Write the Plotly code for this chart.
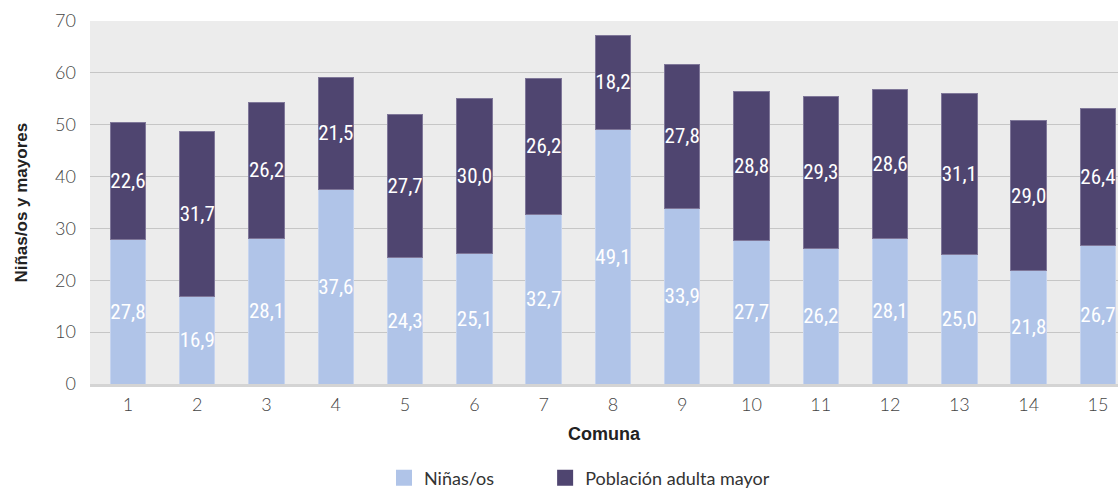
import plotly.graph_objects as go

comunas = [str(i) for i in range(1, 16)]
ninos = [27.8, 16.9, 28.1, 37.6, 24.3, 25.1, 32.7, 49.1, 33.9, 27.7, 26.2, 28.1, 25.0, 21.8, 26.7]
mayores = [22.6, 31.7, 26.2, 21.5, 27.7, 30.0, 26.2, 18.2, 27.8, 28.8, 29.3, 28.6, 31.1, 29.0, 26.4]
y_ticks = [0, 10, 20, 30, 40, 50, 60, 70]

def fmt(v):
    return f"{v:.1f}".replace(".", ",")

label_font = dict(family="Roboto Condensed, Liberation Sans Narrow, sans-serif", size=21,
                  color="white", weight=400)

AX_FONT = "Lato, Open Sans, Liberation Sans, sans-serif"
TITLE_FONT = "Liberation Sans, Arial, sans-serif"

x_idx = list(range(1, 16))

fig = go.Figure()
fig.add_trace(go.Bar(
    x=x_idx, y=ninos, name="Niñas/os", showlegend=False,
    marker=dict(color="#b0c4e8", line=dict(width=1, color="#c6d4ef")),
    text=[fmt(v) for v in ninos], textposition="inside", insidetextanchor="middle",
    textangle=0, insidetextfont=label_font, constraintext="none", cliponaxis=False,
    hoverinfo="skip",
))
fig.add_trace(go.Bar(
    x=x_idx, y=mayores, name="Población adulta mayor", showlegend=False,
    marker=dict(color="#4f4570", line=dict(width=1, color="#7f7799")),
    text=[fmt(v) for v in mayores], textposition="inside", insidetextanchor="middle",
    textangle=0, insidetextfont=label_font, constraintext="none", cliponaxis=False,
    hoverinfo="skip",
))
# legend entries
fig.add_trace(go.Scatter(x=[None], y=[None], mode="markers", name="Niñas/os" + "\u00a0" * 10,
                         marker=dict(symbol="square", size=16, color="#b0c4e8")))
fig.add_trace(go.Scatter(x=[None], y=[None], mode="markers", name="Población adulta mayor",
                         marker=dict(symbol="square", size=16, color="#4f4570")))

fig.update_layout(
    width=1118, height=488,
    barmode="stack", bargap=0.49,
    paper_bgcolor="white", plot_bgcolor="#ececec",
    margin=dict(l=90, r=0, t=21, b=104, autoexpand=False),
    font=dict(family=AX_FONT, color="#333333"),
    showlegend=True,
    legend=dict(orientation="h", x=384 / 1118, xanchor="left", xref="container",
                y=-0.259, yanchor="middle", yref="paper", itemsizing="trace",
                font=dict(size=18, color="#333333", family=AX_FONT), traceorder="normal"),
    xaxis=dict(
        range=[0.452, 15.29], tickmode="array", tickvals=x_idx, ticktext=comunas,
        tickfont=dict(size=18, color="#444444", weight=300), showgrid=False,
        showline=True, linecolor="#d4d4d4", linewidth=3, ticks="", ticklabelstandoff=2,
        title=dict(text="<b>Comuna</b>", font=dict(size=18, color="#222222", family=TITLE_FONT), standoff=14),
        zeroline=False,
    ),
    yaxis=dict(
        range=[0, 70], tickmode="array", tickvals=y_ticks,
        tickfont=dict(size=18, color="#444444", weight=300),
        gridcolor="#c6c6c6", gridwidth=1, zeroline=False, ticks="",
        ticklabelstandoff=13,
    ),
    annotations=[dict(
        text="<b>Niñas/os y mayores</b>", xref="paper", yref="paper",
        x=-0.0671, y=0.5, xanchor="center", yanchor="middle", textangle=-90,
        showarrow=False, font=dict(size=17, color="#222222", family=TITLE_FONT),
    )],
)

fig.write_html("out.html", config={"displayModeBar": False},
               post_script="document.body.style.margin='0';document.body.style.overflow='hidden';")
